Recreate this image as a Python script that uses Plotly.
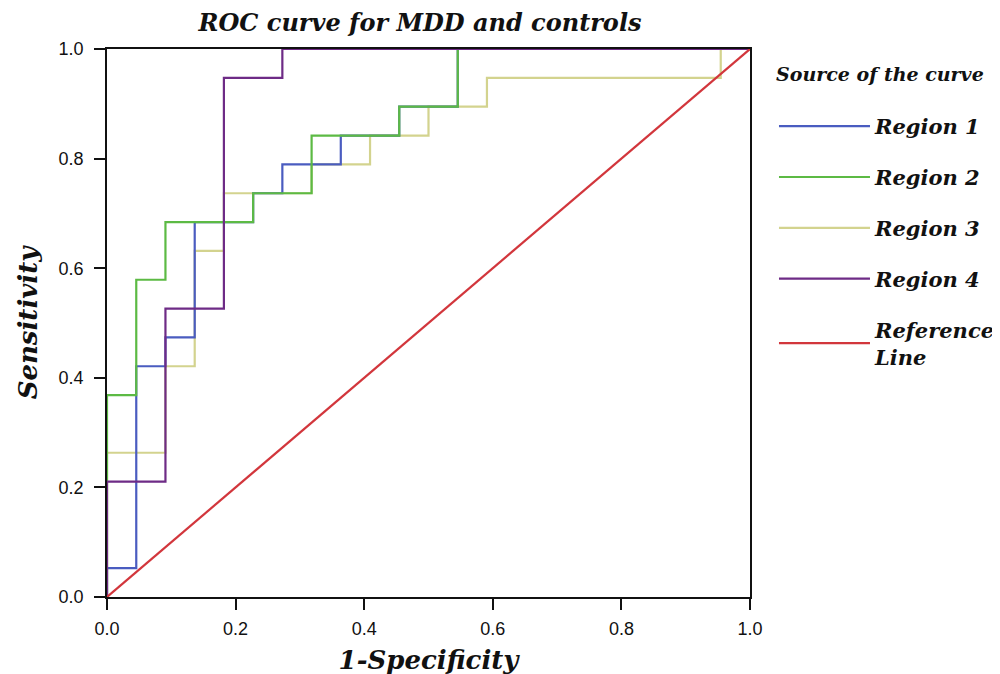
import plotly.graph_objects as go

# ROC step curves (1-Specificity, Sensitivity); 22 controls, 19 MDD
region1_x = [0, 0, 0.0455, 0.0455, 0.0909, 0.0909, 0.1364, 0.1364, 0.2273, 0.2273, 0.2727, 0.2727, 0.3636, 0.3636, 0.4545, 0.4545, 0.5455, 0.5455, 1.0]
region1_y = [0, 0.0526, 0.0526, 0.4211, 0.4211, 0.4737, 0.4737, 0.6842, 0.6842, 0.7368, 0.7368, 0.7895, 0.7895, 0.8421, 0.8421, 0.8947, 0.8947, 1.0, 1.0]

region2_x = [0, 0, 0.0455, 0.0455, 0.0909, 0.0909, 0.2273, 0.2273, 0.3182, 0.3182, 0.4545, 0.4545, 0.5455, 0.5455, 1.0]
region2_y = [0, 0.3684, 0.3684, 0.5789, 0.5789, 0.6842, 0.6842, 0.7368, 0.7368, 0.8421, 0.8421, 0.8947, 0.8947, 1.0, 1.0]

region3_x = [0, 0, 0.0909, 0.0909, 0.1364, 0.1364, 0.1818, 0.1818, 0.3182, 0.3182, 0.4091, 0.4091, 0.5, 0.5, 0.5909, 0.5909, 0.9545, 0.9545, 1.0]
region3_y = [0, 0.2632, 0.2632, 0.4211, 0.4211, 0.6316, 0.6316, 0.7368, 0.7368, 0.7895, 0.7895, 0.8421, 0.8421, 0.8947, 0.8947, 0.9474, 0.9474, 1.0, 1.0]

region4_x = [0, 0, 0.0909, 0.0909, 0.1818, 0.1818, 0.2727, 0.2727, 1.0]
region4_y = [0, 0.2105, 0.2105, 0.5263, 0.5263, 0.9474, 0.9474, 1.0, 1.0]

ref_x = [0, 1]
ref_y = [0, 1]

series = [
    ("Region 1", region1_x, region1_y, "#4a5cc0"),
    ("Region 2", region2_x, region2_y, "#5cba44"),
    ("Region 3", region3_x, region3_y, "#d3d38e"),
    ("Region 4", region4_x, region4_y, "#6e2b86"),
    ("Reference<br>Line", ref_x, ref_y, "#d2363c"),
]

fig = go.Figure()
draw_order = [2, 0, 1, 3, 4]
for i in draw_order:
    name, xs, ys, col = series[i]
    fig.add_trace(go.Scatter(
        x=xs, y=ys, mode="lines", name=f"<b><i>{name}</i></b>",
        line=dict(color=col, width=2.2),
        legendgroup=f"g{i}", legendrank=i + 1,
    ))

bfont = "DejaVu Serif"
fig.update_layout(
    width=1000, height=674,
    paper_bgcolor="white", plot_bgcolor="white",
    margin=dict(l=99, r=258, t=41, b=85, autoexpand=False),
    title=dict(text="<b><i>ROC curve for MDD and controls</i></b>",
               x=0.412, xanchor="center", y=0.979, yanchor="middle",
               font=dict(family=bfont, size=24, color="#111")),
    legend=dict(
        title=dict(text="<b><i>Source of the curve</i></b><br> ",
                   font=dict(family=bfont, size=19, color="#111")),
        font=dict(family=bfont, size=21, color="#111"),
        x=1.0373, xanchor="left", y=0.986, yanchor="top",
        tracegroupgap=20.5, itemwidth=91,
        bgcolor="rgba(0,0,0,0)",
    ),
    showlegend=True,
)
common = dict(
    range=[0, 1], tickmode="linear", tick0=0, dtick=0.2, tickformat=".1f",
    showgrid=False, zeroline=False, showline=True, linecolor="#111", linewidth=1.5,
    mirror=True, ticks="outside", ticklen=11, tickwidth=2, tickcolor="#111",
    tickfont=dict(family="Liberation Sans", size=18, color="#111"),
)
fig.update_xaxes(**common, ticklabelstandoff=4,
    title=dict(text="<b><i>1-Specificity</i></b>",
               font=dict(family=bfont, size=26, color="#111"), standoff=12))
fig.update_yaxes(**common, ticklabelstandoff=7,
    title=dict(text="<b><i>Sensitivity</i></b>",
               font=dict(family=bfont, size=26, color="#111"), standoff=14))

fig.write_html("out.html")
